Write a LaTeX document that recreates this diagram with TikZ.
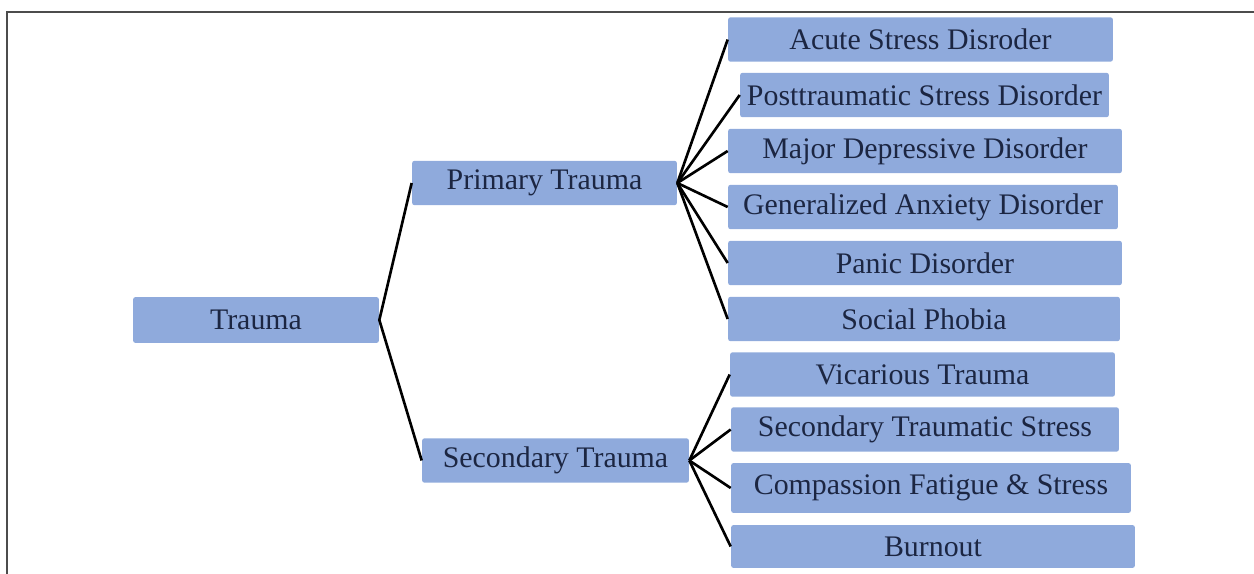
\documentclass[tikz,border=0pt]{standalone}
\usepackage{xcolor}
\usepackage{fontspec}
\setmainfont{Liberation Serif}
\usepackage{tikz}

\definecolor{boxblue}{RGB}{143,170,220}
\definecolor{boxtext}{RGB}{28,38,66}

\begin{document}
\begin{tikzpicture}[
x=0.02cm, y=-0.02cm,
box/.style={
fill=boxblue,
rounded corners=1.5pt,
minimum height=0.89cm,
inner sep=0pt,
text=boxtext,
font=\fontsize{17}{20}\selectfont,
align=center
},
link/.style={
line width=1.5pt,
black
}
]

\useasboundingbox (0,0) rectangle (1254,574);

% frame
\draw[gray!60!black, line width=0.7pt] (7,574) -- (7,12) -- (1260,12);

% root and branches
\node[box, minimum width=4.92cm, minimum height=0.92cm] (trauma) at (256,320) {Trauma};
\node[box, minimum width=5.3cm] (primary) at (544.5,183) {Primary Trauma};
\node[box, minimum width=5.34cm] (secondary) at (555.5,460.5) {Secondary Trauma};

% primary trauma outcomes
\node[box, minimum width=7.7cm] (acute) at (920.5,39.5) {Acute Stress Disroder};
\node[box, minimum width=7.38cm] (ptsd) at (924.5,95) {Posttraumatic Stress Disorder};
\node[box, minimum width=7.88cm] (major) at (925,151) {Major Depressive Disorder};
\node[box, minimum width=7.8cm] (anxiety) at (923,207) {Generalized Anxiety Disorder};
\node[box, minimum width=7.88cm] (panic) at (925,263) {Panic Disorder};
\node[box, minimum width=7.84cm] (phobia) at (924,319) {Social Phobia};

% secondary trauma outcomes
\node[box, minimum width=7.7cm] (vicarious) at (922.5,374.5) {Vicarious Trauma};
\node[box, minimum width=7.76cm] (sts) at (925,429.5) {Secondary Traumatic Stress};
\node[box, minimum width=8cm, minimum height=1cm] (fatigue) at (931,488) {Compassion Fatigue \& Stress};
\node[box, minimum width=8.08cm, minimum height=0.86cm] (burnout) at (933,546.5) {Burnout};

% connectors
\draw[link] (primary.west) -- (trauma.east) -- (secondary.west);

\foreach \leaf in {acute, ptsd, major, anxiety, panic, phobia}
\draw[link] (primary.east) -- (\leaf.west);

\foreach \leaf in {vicarious, sts, fatigue, burnout}
\draw[link] (secondary.east) -- (\leaf.west);

\end{tikzpicture}
\end{document}
